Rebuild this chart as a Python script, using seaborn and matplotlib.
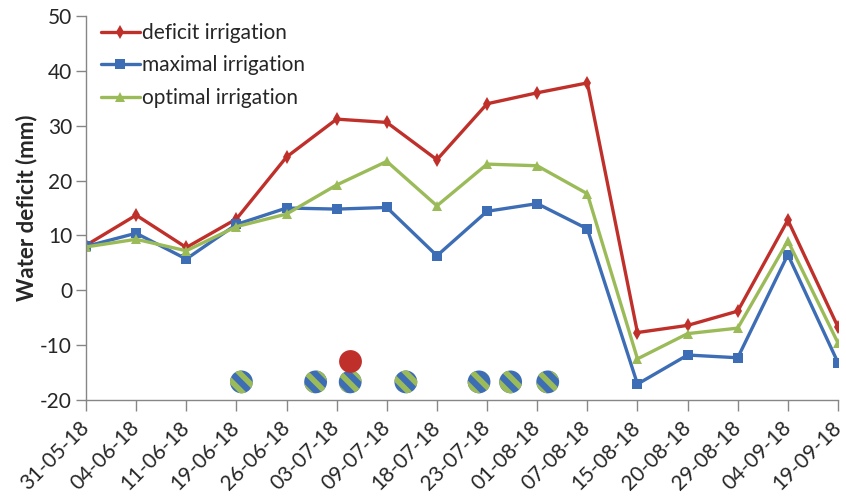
import numpy as np
import pandas as pd
import matplotlib
matplotlib.use("Agg")
import matplotlib.pyplot as plt
import seaborn as sns

# dates on the x axis (categorical)
dates = ["31-05-18", "04-06-18", "11-06-18", "19-06-18", "26-06-18", "03-07-18",
         "09-07-18", "18-07-18", "23-07-18", "01-08-18", "07-08-18", "15-08-18",
         "20-08-18", "29-08-18", "04-09-18", "19-09-18"]

# water deficit (mm) per treatment
deficit = [8.2, 13.7, 7.8, 13.0, 24.3, 31.2, 30.6, 23.8, 34.0, 36.0, 37.8,
           -7.7, -6.4, -3.8, 12.8, -6.7]
maximal = [8.0, 10.4, 5.7, 12.0, 15.0, 14.8, 15.1, 6.3, 14.4, 15.8, 11.2,
           -17.1, -11.8, -12.3, 6.5, -13.2]
optimal = [7.9, 9.3, 7.2, 11.6, 13.9, 19.2, 23.5, 15.4, 23.0, 22.7, 17.6,
           -12.5, -7.9, -6.9, 9.0, -9.6]

# irrigation events (position in category units along the axis)
irrig_pos = [3.10, 4.58, 5.27, 6.38, 7.84, 8.47, 9.21]
irrig_y = [-16.7] * len(irrig_pos)
deficit_irrig_pos = [5.27]
deficit_irrig_y = [-12.9]

series_names = ["deficit irrigation", "maximal irrigation", "optimal irrigation"]
colors = {"deficit irrigation": "#C0302B",
          "maximal irrigation": "#3D6DB5",
          "optimal irrigation": "#9BBB59"}
markers = {"deficit irrigation": "d",
           "maximal irrigation": "s",
           "optimal irrigation": "^"}

idx = np.arange(len(dates))
df = pd.concat([
    pd.DataFrame({"x": idx, "value": deficit, "treatment": series_names[0]}),
    pd.DataFrame({"x": idx, "value": maximal, "treatment": series_names[1]}),
    pd.DataFrame({"x": idx, "value": optimal, "treatment": series_names[2]}),
])

sns.set_style("white")
plt.rcParams["font.family"] = ["Lato", "DejaVu Sans"]
plt.rcParams["axes.unicode_minus"] = False
plt.rcParams["hatch.linewidth"] = 4.0

fig = plt.figure(figsize=(8.46, 4.99), dpi=100)
ax = fig.add_axes([86 / 846, 1 - 400 / 499, 752 / 846, 384 / 499])

sns.lineplot(data=df, x="x", y="value", hue="treatment", style="treatment",
             palette=colors, markers=markers, dashes=False, linewidth=2.4,
             markersize=7, markeredgewidth=0, ax=ax, legend=True)

# irrigation events
ax.scatter(irrig_pos, irrig_y, s=270, facecolor="#3D6DB5", edgecolor="#9BBB59",
           linewidth=0, hatch="\\\\", zorder=5)
ax.scatter(deficit_irrig_pos, deficit_irrig_y, s=270, color="#C0302B",
           linewidth=0, zorder=5)

ax.set_xlim(0, len(dates) - 1)
ax.set_ylim(-20, 50)
ax.set_xticks(idx)
ax.set_xticklabels(dates, rotation=45, ha="right", va="center",
                   rotation_mode="anchor", fontsize=15)
ax.set_yticks(range(-20, 51, 10))
ax.tick_params(axis="y", labelsize=15, direction="out", length=7, width=1,
               color="#868686", left=True, pad=3)
ax.tick_params(axis="x", direction="out", length=8, width=1, color="#868686",
               bottom=True, pad=10)
ax.set_xlabel("")
ax.set_ylabel("Water deficit (mm)", fontsize=16, fontweight="bold", labelpad=2)

for side in ["top", "right"]:
    ax.spines[side].set_visible(False)
for side in ["left", "bottom"]:
    ax.spines[side].set_color("#868686")
    ax.spines[side].set_linewidth(1)

leg = ax.legend(loc="upper left", bbox_to_anchor=(0.0, 1.02), frameon=False,
                fontsize=15, handlelength=1.9, handletextpad=0.1,
                labelspacing=0.6, borderaxespad=0.3)

fig.savefig("out.png", dpi=100)
